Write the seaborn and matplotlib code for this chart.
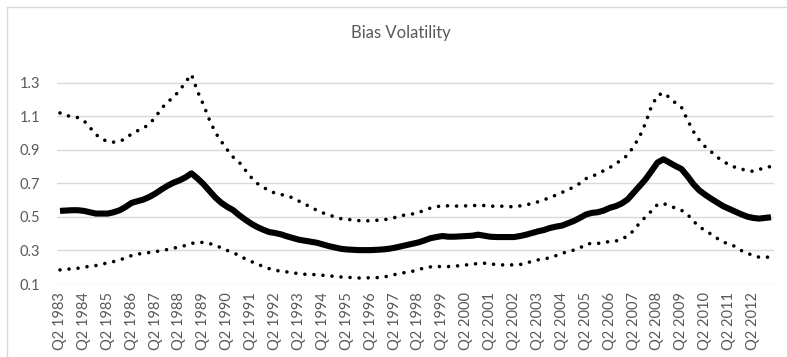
import pandas as pd
import seaborn as sns
import matplotlib.pyplot as plt
from matplotlib.lines import Line2D

# quarterly series, Q2 1983 .. Q1 2013
start_year = 1983
start_q = 2

upper = [1.12, 1.104, 1.10, 1.092, 1.074, 1.034, 0.992, 0.964, 0.95, 0.946,
         0.95, 0.968, 0.996, 1.014, 1.03, 1.056, 1.096, 1.148, 1.184, 1.216,
         1.252, 1.304, 1.35, 1.25, 1.17, 1.08, 1.004, 0.95, 0.90, 0.856,
         0.826, 0.78, 0.736, 0.70, 0.678, 0.656, 0.642, 0.634, 0.624, 0.614,
         0.594, 0.577, 0.556, 0.54, 0.524, 0.512, 0.50, 0.49, 0.486, 0.482,
         0.478, 0.476, 0.478, 0.48, 0.482, 0.488, 0.496, 0.506, 0.514, 0.518,
         0.526, 0.54, 0.553, 0.56, 0.568, 0.566, 0.564, 0.566, 0.566, 0.568,
         0.568, 0.568, 0.564, 0.564, 0.564, 0.562, 0.56, 0.566, 0.572, 0.58,
         0.59, 0.602, 0.616, 0.63, 0.646, 0.66, 0.68, 0.70, 0.728, 0.742,
         0.756, 0.776, 0.794, 0.816, 0.842, 0.868, 0.92, 0.978, 1.06, 1.16,
         1.224, 1.24, 1.212, 1.18, 1.155, 1.08, 1.01, 0.958, 0.918, 0.888,
         0.856, 0.832, 0.81, 0.796, 0.786, 0.776, 0.772, 0.782, 0.796, 0.80]

middle = [0.536, 0.538, 0.54, 0.54, 0.536, 0.528, 0.52, 0.52, 0.52, 0.528,
          0.54, 0.56, 0.584, 0.594, 0.604, 0.62, 0.64, 0.664, 0.686, 0.704,
          0.718, 0.736, 0.76, 0.73, 0.696, 0.656, 0.616, 0.584, 0.56, 0.54,
          0.51, 0.484, 0.46, 0.44, 0.424, 0.41, 0.404, 0.396, 0.384, 0.374,
          0.364, 0.358, 0.352, 0.346, 0.336, 0.326, 0.318, 0.31, 0.306, 0.304,
          0.302, 0.302, 0.302, 0.304, 0.306, 0.31, 0.316, 0.324, 0.332, 0.34,
          0.348, 0.36, 0.373, 0.38, 0.386, 0.382, 0.382, 0.384, 0.386, 0.388,
          0.394, 0.388, 0.382, 0.38, 0.38, 0.38, 0.38, 0.386, 0.394, 0.404,
          0.414, 0.422, 0.434, 0.442, 0.448, 0.462, 0.476, 0.494, 0.514, 0.524,
          0.528, 0.538, 0.554, 0.564, 0.58, 0.604, 0.644, 0.684, 0.724, 0.774,
          0.824, 0.844, 0.824, 0.804, 0.786, 0.744, 0.696, 0.658, 0.632, 0.608,
          0.586, 0.564, 0.548, 0.532, 0.516, 0.502, 0.494, 0.49, 0.494, 0.498]

lower = [0.184, 0.188, 0.19, 0.194, 0.20, 0.206, 0.21, 0.218, 0.226, 0.234,
         0.244, 0.256, 0.27, 0.278, 0.284, 0.288, 0.294, 0.298, 0.306, 0.314,
         0.32, 0.33, 0.342, 0.348, 0.348, 0.342, 0.33, 0.316, 0.30, 0.286,
         0.27, 0.25, 0.234, 0.22, 0.204, 0.192, 0.182, 0.176, 0.172, 0.166,
         0.162, 0.158, 0.158, 0.154, 0.152, 0.148, 0.146, 0.142, 0.14, 0.138,
         0.136, 0.136, 0.138, 0.138, 0.14, 0.148, 0.156, 0.164, 0.17, 0.176,
         0.186, 0.196, 0.202, 0.204, 0.204, 0.204, 0.206, 0.21, 0.214, 0.216,
         0.224, 0.224, 0.22, 0.216, 0.214, 0.214, 0.214, 0.216, 0.226, 0.234,
         0.244, 0.25, 0.256, 0.269, 0.282, 0.294, 0.302, 0.314, 0.338, 0.342,
         0.342, 0.346, 0.354, 0.356, 0.366, 0.388, 0.418, 0.464, 0.50, 0.536,
         0.574, 0.58, 0.566, 0.553, 0.54, 0.516, 0.476, 0.44, 0.42, 0.396,
         0.372, 0.35, 0.338, 0.324, 0.30, 0.284, 0.27, 0.26, 0.26, 0.26]

n = len(middle)
quarters = []
for k in range(n):
    q = (start_q - 1 + k) % 4 + 1
    y = start_year + (start_q - 1 + k) // 4
    quarters.append(f"Q{q} {y}")

y_ticks = [0.1, 0.3, 0.5, 0.7, 0.9, 1.1, 1.3]

df = pd.DataFrame({"idx": range(n), "quarter": quarters,
                   "upper": upper, "middle": middle, "lower": lower})

sns.set_style("white")
plt.rcParams["font.family"] = ["Lato", "DejaVu Sans"]

fig = plt.figure(figsize=(7.87, 3.57), dpi=100)
ax = fig.add_axes([57 / 787, 1 - 284 / 357, (774 - 57) / 787, (284 - 66) / 357])

dot = (0, (0.01, 2.5))
sns.lineplot(data=df, x="idx", y="upper", ax=ax, color="black", linewidth=2.6,
             linestyle=dot, dash_capstyle="round")
sns.lineplot(data=df, x="idx", y="lower", ax=ax, color="black", linewidth=2.6,
             linestyle=dot, dash_capstyle="round")
sns.lineplot(data=df, x="idx", y="middle", ax=ax, color="black", linewidth=4.4,
             solid_joinstyle="round", solid_capstyle="butt")

ax.set_xlim(-0.5, n - 0.5)
ax.set_ylim(0.1, 1.4)
ax.set_yticks(y_ticks)
ax.set_yticklabels([f"{v:.1f}" for v in y_ticks])
ax.set_xticks(df["idx"][::4])
ax.set_xticklabels(df["quarter"][::4], rotation=90)
ax.set_xlabel("")
ax.set_ylabel("")

ax.grid(axis="y", color="#d9d9d9", linewidth=1.0)
ax.grid(axis="x", visible=False)
ax.set_axisbelow(True)
for s in ax.spines.values():
    s.set_visible(False)
ax.tick_params(axis="both", length=0, labelsize=10.5, colors="#595959")
ax.tick_params(axis="y", pad=12)
ax.tick_params(axis="x", pad=6)

fig.text(401 / 787, 1 - 33 / 357, "Bias Volatility", ha="center", va="center",
         fontsize=12, color="#595959")

# chart area border (light gray, cropped on right/bottom)
bc = "#d9d9d9"
fig.add_artist(Line2D([7 / 787, 7 / 787], [0, 1 - 7 / 357], color=bc, linewidth=1))
fig.add_artist(Line2D([7 / 787, 1], [1 - 7 / 357, 1 - 7 / 357], color=bc, linewidth=1))

fig.savefig("out.png", dpi=100)
